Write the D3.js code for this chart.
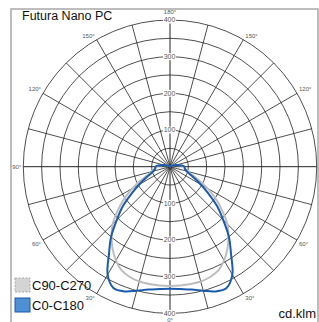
<!DOCTYPE html>
<html>
<head>
<meta charset="utf-8">
<script src="https://cdn.jsdelivr.net/npm/d3@7"></script>
<style>
  body { margin: 0; background: #fff; }
  svg { display: block; font-family: "Liberation Sans", Arial, sans-serif; }
</style>
</head>
<body>
<div id="chart"></div>
<script>
// angles measured from nadir (0 deg = straight down), values in cd/klm
var angles = [0, 5, 10, 15, 20, 25, 30, 35, 40, 45, 50, 55, 60, 65, 70, 75, 80, 85, 90, 95, 100, 105, 110, 120, 135, 150, 165, 180];
var c0c180 = [333, 335, 340, 350, 362, 365, 340, 290, 250, 205, 168, 128, 97, 73, 56, 47, 42, 40, 40, 34, 25, 18, 12, 5, 2, 1, 1, 1];
var c90c270 = [325, 325, 325, 324, 320, 312, 295, 273, 248, 221, 186, 152, 118, 86, 63, 50, 44, 40, 38, 32, 24, 17, 11, 5, 2, 1, 1, 1];

var rings = [50, 100, 150, 200, 250, 300, 350, 400];
var ringLabels = [100, 200, 300, 400];
var spokeAngles = d3.range(0, 360, 15);
var angleLabels = [0, 30, 60, 90, 120, 150, 180];

var width = 319, height = 322;
var cx = 170, cy = 166.7;

var svg = d3.select("#chart").append("svg")
  .attr("width", width)
  .attr("height", height);

// frame
svg.append("path")
  .attr("d", "M11,330 L11,9 L318,9 L318,330")
  .attr("fill", "none")
  .attr("stroke", "#a8a8a8")
  .attr("stroke-width", 1.5);

var r = d3.scaleLinear().domain([0, 400]).range([0, 146.7]);

var g = svg.append("g").attr("transform", "translate(" + cx + "," + cy + ")");

// screen position from angle (from nadir, deg) and radius px
function pos(deg, rad) {
  var t = deg * Math.PI / 180;
  return [rad * Math.sin(t), rad * Math.cos(t)];
}

// rings
g.selectAll(".ring").data(rings).enter().append("circle")
  .attr("class", "ring")
  .attr("r", function(d) { return r(d); })
  .attr("fill", "none")
  .attr("stroke", "#222")
  .attr("stroke-width", 0.8);

// spokes
g.selectAll(".spoke").data(spokeAngles).enter().append("line")
  .attr("class", "spoke")
  .attr("x1", 0).attr("y1", 0)
  .attr("x2", function(d) { return pos(d, r(400))[0]; })
  .attr("y2", function(d) { return pos(d, r(400))[1]; })
  .attr("stroke", "#222")
  .attr("stroke-width", function(d) { return d % 90 === 0 ? 1 : 0.8; });

// curves
function fullCurve(vals) {
  var pts = [];
  for (var i = angles.length - 1; i >= 0; i--) pts.push([Math.PI + angles[i] * Math.PI / 180, r(vals[i])]);
  for (var j = 1; j < angles.length; j++) pts.push([Math.PI - angles[j] * Math.PI / 180, r(vals[j])]);
  return pts;
}
var radial = d3.lineRadial()
  .angle(function(d) { return d[0]; })
  .radius(function(d) { return d[1]; })
  .curve(d3.curveCatmullRom.alpha(0.5));

g.append("path")
  .datum(fullCurve(c90c270))
  .attr("d", radial)
  .attr("fill", "none")
  .attr("stroke", "#bdbdbd")
  .attr("stroke-width", 2);

g.append("path")
  .datum(fullCurve(c0c180))
  .attr("d", radial)
  .attr("fill", "none")
  .attr("stroke", "#1b5bab")
  .attr("stroke-width", 2);

// ring value labels, on the vertical axis above and below
ringLabels.forEach(function(v) {
  [-1, 1].forEach(function(s) {
    var y = s * r(v);
    g.append("rect")
      .attr("x", -7).attr("y", y - 3.5)
      .attr("width", 13).attr("height", 7)
      .attr("fill", "#fff");
    g.append("text")
      .attr("x", -0.5).attr("y", y)
      .attr("dy", "0.35em")
      .attr("text-anchor", "middle")
      .attr("font-size", 7)
      .attr("fill", "#555")
      .text(v);
  });
});

// angle labels (the right-hand 90° falls outside the picture)
angleLabels.forEach(function(a) {
  [-1, 1].forEach(function(s) {
    if ((a === 0 || a === 180) && s < 0) return;
    if (a === 90 && s > 0) return;
    var p = pos(a * s, r(400));
    var x = p[0], y = p[1];
    var anchor = "middle";
    if (a === 0) { y += 7; }
    else if (a === 180) { y -= 8; }
    else {
      anchor = s > 0 ? "start" : "end";
      x += s * 2;
      y += a < 90 ? 4 : (a > 90 ? -4 : 0);
    }
    g.append("text")
      .attr("x", x).attr("y", y)
      .attr("dy", "0.35em")
      .attr("text-anchor", anchor)
      .attr("font-size", 6)
      .attr("fill", "#555")
      .text(a + "°");
  });
});

// title
svg.append("text")
  .attr("x", 22).attr("y", 20)
  .attr("font-size", 12.5)
  .attr("fill", "#111")
  .text("Futura Nano PC");

// legend
var legend = [
  {name: "C90-C270", fill: "#d4d4d4", stroke: "#a8a8a8", dash: "2,1.5"},
  {name: "C0-C180", fill: "#4f8fd3", stroke: "#1b5bab", dash: null}
];
legend.forEach(function(d, i) {
  var y = 278 + i * 20;
  svg.append("rect")
    .attr("x", 15).attr("y", y)
    .attr("width", 15).attr("height", 14)
    .attr("fill", d.fill)
    .attr("stroke", d.stroke)
    .attr("stroke-width", 1)
    .attr("stroke-dasharray", d.dash);
  svg.append("text")
    .attr("x", 32).attr("y", y + 12)
    .attr("font-size", 13)
    .attr("fill", "#111")
    .text(d.name);
});

svg.append("text")
  .attr("x", 316).attr("y", 318)
  .attr("text-anchor", "end")
  .attr("font-size", 13)
  .attr("fill", "#111")
  .text("cd.klm");
</script>
</body>
</html>
